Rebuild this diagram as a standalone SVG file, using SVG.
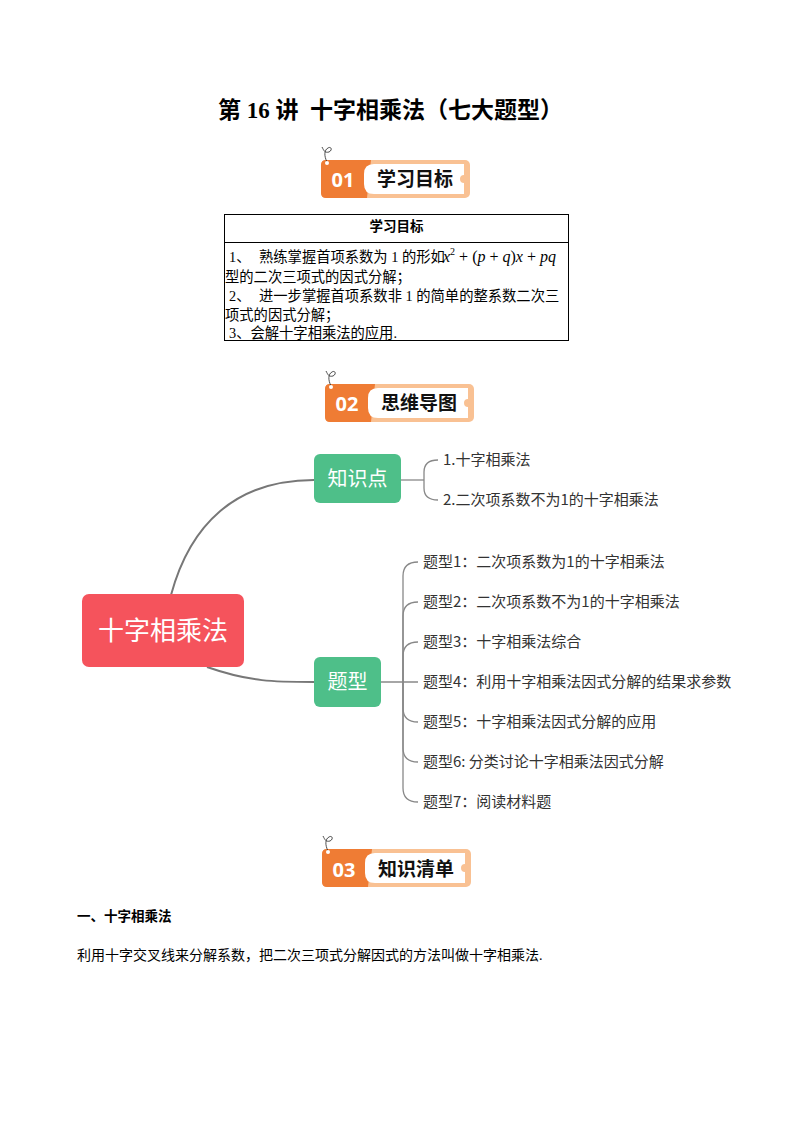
<svg xmlns="http://www.w3.org/2000/svg" width="794" height="1123" viewBox="0 0 794 1123">
<style>
.bg{fill:#ffffff}
.title{font-family:"Liberation Serif","Noto Sans CJK SC",serif;font-size:23px;font-weight:700;fill:#000;white-space:pre}
.peach{fill:#F9C193}
.orange{fill:#EF7C34}
.pill{fill:#ffffff}
.num{font-family:"Open Sans","Noto Sans",sans-serif;font-size:20px;font-weight:700;fill:#fff}
.blab{font-family:"Noto Sans CJK SC",sans-serif;font-size:19px;font-weight:700;fill:#111}
.curl{fill:none;stroke:#222;stroke-width:0.8}
.tbl{fill:none;stroke:#000;stroke-width:1}
.th{font-family:"Liberation Serif","Noto Sans CJK SC",serif;font-size:13.5px;font-weight:700;fill:#000}
.td{font-family:"Liberation Serif","Noto Sans CJK SC",serif;font-size:14.3px;fill:#000}
.math{font-family:"Liberation Serif",serif;font-size:16px;fill:#000}
.it{font-style:italic}
.root{fill:#F5535C}
.green{fill:#4EBF89}
.rootText{font-family:"Noto Sans CJK SC",sans-serif;font-size:26px;fill:#fff}
.gText{font-family:"Noto Sans CJK SC",sans-serif;font-size:20px;fill:#fff}
.item{font-family:"Noto Sans CJK SC",sans-serif;font-size:15px;fill:#333}
.main{fill:none;stroke:#777;stroke-width:2}
.brace{fill:none;stroke:#888;stroke-width:1.3}
.h1{font-family:"Liberation Serif","Noto Sans CJK SC",serif;font-size:13.5px;font-weight:700;fill:#000}
.body{font-family:"Liberation Serif","Noto Sans CJK SC",serif;font-size:14px;fill:#000}
</style>
<rect class="bg" x="0" y="0" width="794" height="1123"/>

<g id="title">
<text class="title" x="390.5" y="118" text-anchor="middle" xml:space="preserve">第 16 讲  十字相乘法（七大题型）</text>
</g>

<g id="badge01" transform="translate(321,160)">
<rect class="peach" x="0" y="0" width="149" height="38" rx="5"/>
<path class="orange" d="M5 0 H50 L46 38 H5 Q0 38 0 33 V5 Q0 0 5 0Z"/>
<path class="pill" d="M53 4 H143 V15 A4 4 0 0 0 143 23 V34 H53 Q43 34 43 24 V14 Q43 4 53 4Z"/>
<path class="curl" d="M1 -13 C3 -9 4 -7 8 -8 C12 -10 10 -14 7 -12 C3 -10 3 -4 6 2"/>
<circle cx="6" cy="3" r="2" fill="#fff"/>
<text class="num" x="22" y="27" text-anchor="middle">01</text>
<text class="blab" x="94" y="26" text-anchor="middle">学习目标</text>
</g>

<g id="goals-table">
<rect class="tbl" x="224.5" y="214.5" width="344" height="126"/>
<line class="tbl" x1="224.5" y1="242.5" x2="568.5" y2="242.5"/>
<text class="th" x="396.5" y="231" text-anchor="middle">学习目标</text>
<text class="td" x="229" y="262">1、</text>
<text class="td" x="259" y="262">熟练掌握首项系数为 1 的形如</text>
<text class="math" x="443" y="262"><tspan class="it">x</tspan><tspan font-size="10" dy="-7">2</tspan><tspan dy="7"> + (</tspan><tspan class="it">p</tspan><tspan> + </tspan><tspan class="it">q</tspan><tspan>)</tspan><tspan class="it">x</tspan><tspan> + </tspan><tspan class="it">pq</tspan></text>
<text class="td" x="225" y="282">型的二次三项式的因式分解；</text>
<text class="td" x="229" y="301">2、</text>
<text class="td" x="259" y="301">进一步掌握首项系数非 1 的简单的整系数二次三</text>
<text class="td" x="225" y="320">项式的因式分解；</text>
<text class="td" x="229" y="338">3、会解十字相乘法的应用.</text>
</g>

<g id="badge02" transform="translate(325,384)">
<rect class="peach" x="0" y="0" width="149" height="38" rx="5"/>
<path class="orange" d="M5 0 H50 L46 38 H5 Q0 38 0 33 V5 Q0 0 5 0Z"/>
<path class="pill" d="M53 4 H143 V15 A4 4 0 0 0 143 23 V34 H53 Q43 34 43 24 V14 Q43 4 53 4Z"/>
<path class="curl" d="M1 -13 C3 -9 4 -7 8 -8 C12 -10 10 -14 7 -12 C3 -10 3 -4 6 2"/>
<circle cx="6" cy="3" r="2" fill="#fff"/>
<text class="num" x="22" y="27" text-anchor="middle">02</text>
<text class="blab" x="94" y="26" text-anchor="middle">思维导图</text>
</g>

<g id="connectors">
<path class="main" d="M171 595 C190 525 235 480 314 480"/>
<path class="main" d="M207 667 C250 682 275 682 314 682"/>
<path class="brace" d="M401 480 H424"/>
<path class="brace" d="M438 460 Q424 460 424 472 V488 Q424 500 438 500"/>
<path class="brace" d="M381 682 H418"/>
<path class="brace" d="M403 682 V576 C403 566 408 562 418 562"/>
<path class="brace" d="M403 682 V616 C403 606 408 602 418 602"/>
<path class="brace" d="M403 682 V656 C403 646 408 642 418 642"/>
<path class="brace" d="M403 682 V708 C403 718 408 722 418 722"/>
<path class="brace" d="M403 682 V748 C403 758 408 762 418 762"/>
<path class="brace" d="M403 682 V788 C403 798 408 802 418 802"/>
</g>

<g id="node-root">
<rect class="root" x="82" y="594" width="162" height="73" rx="7"/>
<text class="rootText" x="163" y="640" text-anchor="middle">十字相乘法</text>
</g>
<g id="node-zhishidian">
<rect class="green" x="314" y="454" width="87" height="49" rx="6"/>
<text class="gText" x="357.5" y="486" text-anchor="middle">知识点</text>
</g>
<g id="node-tixing">
<rect class="green" x="314" y="657" width="67" height="50" rx="6"/>
<text class="gText" x="347.5" y="689" text-anchor="middle">题型</text>
</g>
<g id="k1"><text class="item" x="443" y="465">1.十字相乘法</text></g>
<g id="k2"><text class="item" x="443" y="505">2.二次项系数不为1的十字相乘法</text></g>
<g id="t1"><text class="item" x="423" y="567">题型1：二次项系数为1的十字相乘法</text></g>
<g id="t2"><text class="item" x="423" y="607">题型2：二次项系数不为1的十字相乘法</text></g>
<g id="t3"><text class="item" x="423" y="647">题型3：十字相乘法综合</text></g>
<g id="t4"><text class="item" x="423" y="687">题型4：利用十字相乘法因式分解的结果求参数</text></g>
<g id="t5"><text class="item" x="423" y="727">题型5：十字相乘法因式分解的应用</text></g>
<g id="t6"><text class="item" x="423" y="767">题型6: 分类讨论十字相乘法因式分解</text></g>
<g id="t7"><text class="item" x="423" y="807">题型7：阅读材料题</text></g>

<g id="badge03" transform="translate(322,849)">
<rect class="peach" x="0" y="0" width="149" height="38" rx="5"/>
<path class="orange" d="M5 0 H50 L46 38 H5 Q0 38 0 33 V5 Q0 0 5 0Z"/>
<path class="pill" d="M53 4 H143 V15 A4 4 0 0 0 143 23 V34 H53 Q43 34 43 24 V14 Q43 4 53 4Z"/>
<path class="curl" d="M1 -13 C3 -9 4 -7 8 -8 C12 -10 10 -14 7 -12 C3 -10 3 -4 6 2"/>
<circle cx="6" cy="3" r="2" fill="#fff"/>
<text class="num" x="22" y="28" text-anchor="middle">03</text>
<text class="blab" x="94" y="27" text-anchor="middle">知识清单</text>
</g>

<g id="section1">
<text class="h1" x="77" y="921">一、十字相乘法</text>
<text class="body" x="77" y="960">利用十字交叉线来分解系数，把二次三项式分解因式的方法叫做十字相乘法.</text>
</g>
</svg>
